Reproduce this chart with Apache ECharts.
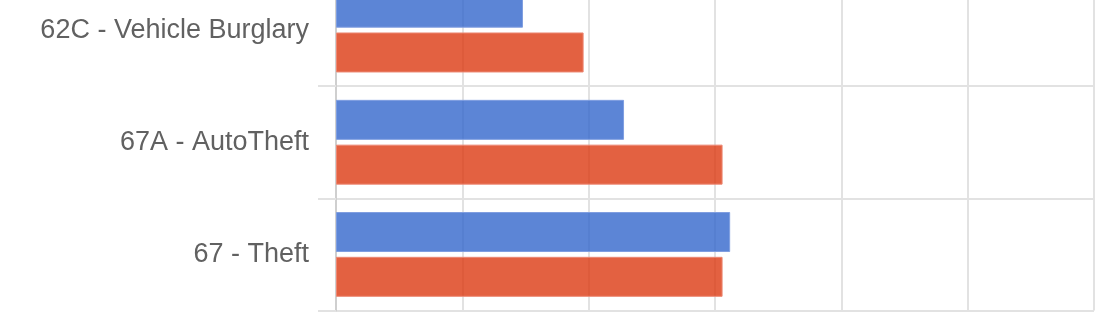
<!DOCTYPE html>
<html>
<head>
<meta charset="utf-8">
<script src="https://cdn.jsdelivr.net/npm/echarts@6/dist/echarts.min.js"></script>
<style>
html,body{margin:0;padding:0;background:#fff;overflow:hidden;}
#chart{width:1108px;height:338px;margin-top:-26px;}
</style>
</head>
<body>
<div id="chart"></div>
<script>
const categories = ['62C - Vehicle Burglary', '67A - AutoTheft', '67 - Theft'];
const seriesBlue = [14.8, 22.8, 31.2];
const seriesRed = [19.6, 30.6, 30.6];
const xMin = 0, xMax = 60, xInterval = 10;

const chart = echarts.init(document.getElementById('chart'), null, {renderer: 'canvas'});
chart.setOption({
  animation: false,
  backgroundColor: '#ffffff',
  grid: {left: 336, right: 14, top: 0, bottom: 1.5, containLabel: false},
  xAxis: {
    type: 'value', min: xMin, max: xMax, interval: xInterval,
    axisLabel: {show: false}, axisLine: {show: false}, axisTick: {show: false},
    splitLine: {show: true, lineStyle: {color: '#e2e2e2', width: 2}}
  },
  yAxis: {
    type: 'category', data: categories, inverse: true,
    axisLine: {show: true, lineStyle: {color: '#cfcfcf', width: 2}},
    axisTick: {show: true, length: 18, lineStyle: {color: '#e2e2e2', width: 2}},
    splitLine: {show: true, lineStyle: {color: '#e2e2e2', width: 2}},
    axisLabel: {margin: 27, color: '#616161', fontSize: 27, fontFamily: 'Liberation Sans, Arial, sans-serif'}
  },
  series: [
    {name: 'series1', type: 'bar', data: seriesBlue, barWidth: 40, barGap: '12%',
     itemStyle: {color: 'rgba(51,102,204,0.8)', borderColor: '#7f9ee0', borderWidth: 1}},
    {name: 'series2', type: 'bar', data: seriesRed, barWidth: 40,
     itemStyle: {color: 'rgba(220,57,18,0.8)', borderColor: '#ec8874', borderWidth: 1}}
  ]
});
</script>
</body>
</html>
